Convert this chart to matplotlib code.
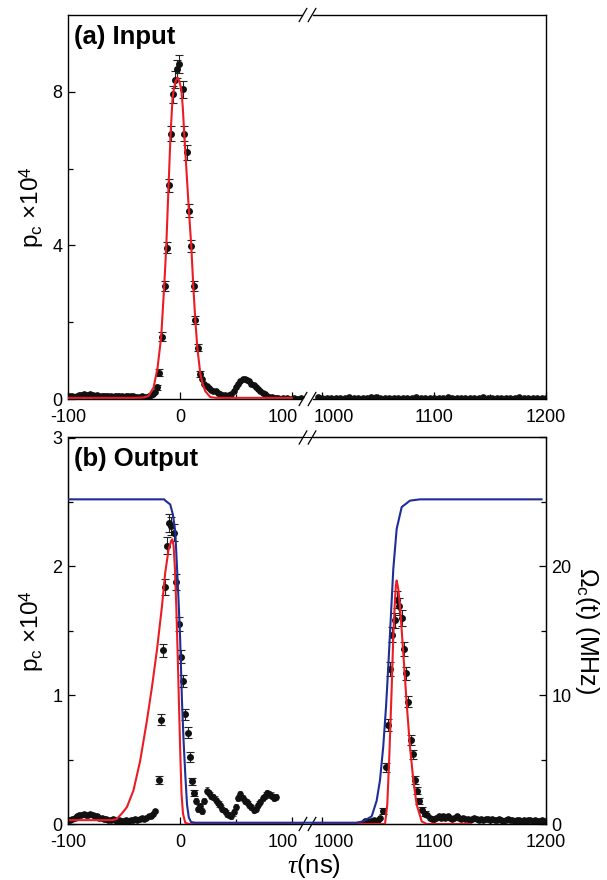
import numpy as np
import matplotlib
matplotlib.use('Agg')
import matplotlib.pyplot as plt
from matplotlib.transforms import ScaledTranslation

plt.rcParams['font.family'] = 'Liberation Sans'
plt.rcParams['mathtext.fontset'] = 'custom'
plt.rcParams['mathtext.rm'] = 'Liberation Sans'
plt.rcParams['mathtext.it'] = 'Liberation Serif:italic'
plt.rcParams['axes.unicode_minus'] = False

# -------------------------------------------------------------------------
# Data (tau in ns, p_c in units of 1e-4, Omega in MHz)
# -------------------------------------------------------------------------
# (a) input pulse: fit curve
a_fit_x = [-100, -40, -32.5, -28, -23.5, -20, -16.7, -14.0, -12.2, -10.1, -8.3,
           -6.5, -5.0, -3.5, -2.0, -0.5, 1.3, 2.6, 3.9, 6.0, 8.1, 10.2, 12.0,
           13.8, 15.6, 18.3, 20.5, 22.8, 27.2, 32, 100]
a_fit_y = [0.03, 0.03, 0.04, 0.08, 0.30, 0.80, 1.62, 2.94, 3.94, 5.56, 6.91,
           7.85, 8.12, 8.30, 8.37, 8.28, 8.06, 7.60, 6.91, 5.90, 4.90, 3.99, 2.94,
           2.06, 1.34, 0.65, 0.38, 0.20, 0.05, 0.03, 0.03]

# (a) measured points around the peak
a_pk_x = [-20.5, -18.5, -16.0, -13.7, -11.6, -10.1, -7.7, -6.2, -4.1, -2.6, -0.5,
          2.4, 3.9, 6.4, 8.4, 10.2, 12.3, 13.8, 15.9, 18.3]
a_pk_y = [0.30, 0.69, 1.62, 2.94, 3.94, 5.56, 6.91, 7.93, 8.31, 8.59, 8.73,
          8.06, 6.91, 6.42, 4.90, 3.99, 2.94, 2.06, 1.34, 0.65]
a_pk_e = [0.06, 0.08, 0.12, 0.14, 0.15, 0.18, 0.20, 0.22, 0.22, 0.23, 0.23,
          0.22, 0.20, 0.20, 0.17, 0.15, 0.14, 0.11, 0.09, 0.07]

# (a) background before the pulse, tau = -100 ... -22 (2 ns steps)
a_pre_x = np.arange(-100, -21, 2)
a_pre_y = [0.06, 0.07, 0.08, 0.06, 0.09, 0.10, 0.11, 0.12, 0.10, 0.11,
           0.12, 0.10, 0.09, 0.10, 0.08, 0.09, 0.07, 0.08, 0.09, 0.07,
           0.06, 0.08, 0.07, 0.09, 0.08, 0.06, 0.07, 0.09, 0.08, 0.07,
           0.06, 0.05, 0.06, 0.07, 0.05, 0.06, 0.08, 0.10, 0.13, 0.18]

# (a) tail after the pulse, tau = 20 ... 108 (2 ns steps)
a_post_x = np.arange(20, 109, 2)
a_post_y = [0.52, 0.38, 0.34, 0.28, 0.24, 0.21, 0.20, 0.16, 0.14, 0.10,
            0.10, 0.09, 0.11, 0.13, 0.21, 0.30, 0.40, 0.47, 0.52, 0.53,
            0.50, 0.46, 0.40, 0.36, 0.30, 0.25, 0.21, 0.16, 0.12, 0.09,
            0.06, 0.04, 0.03, 0.02, 0.02, 0.01, 0.02, 0.01, 0.02, 0.01,
            0.01, 0.02, 0.01, 0.01, 0.02]

# (a) late window, tau = 996 ... 1200 (4 ns steps)
a_late_x = np.arange(996, 1201, 4)
a_late_y = [0.04, 0.03, 0.02, 0.03, 0.03, 0.02, 0.03,
            0.04, 0.03, 0.03, 0.02, 0.03, 0.04, 0.04, 0.03, 0.02, 0.03,
            0.03, 0.02, 0.02, 0.03, 0.03, 0.04, 0.03, 0.03, 0.02, 0.03,
            0.02, 0.03, 0.04, 0.03, 0.03, 0.02, 0.03, 0.03, 0.02, 0.03,
            0.04, 0.03, 0.02, 0.03, 0.03, 0.02, 0.03, 0.03, 0.04, 0.03,
            0.02, 0.03, 0.03, 0.02, 0.03]

# (b) output: fit curve (stored + retrieved pulse)
b_fit_x = [-100, -60, -56.4, -52, -47.4, -41.5, -35.5, -29.5, -25.0, -20.5,
           -16.0, -13.1, -10.1, -7.7, -6.8, -5.6, -4.4, -3.2, -2.0, -0.8, 0.4,
           1.5, 2.8, 4.8, 8, 1056.1, 1058.1, 1059.9, 1062.0, 1063.5, 1065.0,
           1065.8, 1066.5, 1068.0, 1069.5, 1072.4, 1075.5, 1078.4, 1081.4,
           1084.4, 1088.9, 1093.3, 1132]
b_fit_y = [0.03, 0.03, 0.04, 0.08, 0.13, 0.26, 0.49, 0.80, 1.06, 1.35,
           1.69, 1.95, 2.13, 2.20, 2.21, 2.16, 1.98, 1.69, 1.33, 0.93, 0.54,
           0.23, 0.08, 0.01, 0.0, 0.0, 0.15, 0.52, 1.04, 1.46, 1.74,
           1.85, 1.89, 1.82, 1.69, 1.33, 0.93, 0.60, 0.34,
           0.15, 0.02, 0.0, 0.0]

# (b) control Rabi frequency Omega_c(t), MHz
om_x = [-100, -14, -13, -8.6, -6.2, -4.1, -2.6, -1.2, 0.2, 1.0, 1.9, 3.3, 4.8,
        6.4, 8.0, 10.0, 14.0, 1030, 1036.7, 1044.2, 1048.6, 1051.6, 1054.5,
        1057, 1059, 1061.2, 1063.5, 1066.5, 1071, 1078.4, 1087.4, 1196]
om_y = [25.2, 25.2, 25.1, 24.8, 24.0, 22.7, 20.0, 17.4, 14.5, 12.2, 9.5, 6.5,
        3.9, 1.5, 0.5, 0.15, 0.1, 0.1, 0.2, 0.6, 1.8, 3.4, 6.0,
        9.1, 12.2, 15.9, 19.8, 22.9, 24.6, 25.1, 25.2, 25.2]

# (b) measured points, first retrieval
b_pk_x = [-19.0, -17.0, -15.2, -13.4, -11.6, -9.5, -7.5, -5.6, -3.5, -1.2, 0.8,
          2.4, 5.0, 7.0, 9.0, 10.8, 12.6]
b_pk_y = [0.34, 0.81, 1.35, 1.84, 2.16, 2.34, 2.31, 2.26, 1.88, 1.55, 1.30,
          1.11, 0.85, 0.71, 0.52, 0.33, 0.24]
b_pk_e = [0.03, 0.04, 0.05, 0.06, 0.065, 0.07, 0.07, 0.065, 0.06, 0.055, 0.05,
          0.05, 0.045, 0.04, 0.035, 0.03, 0.025]

# (b) background before, tau = -100 ... -22
b_pre_x = np.arange(-100, -21, 2)
b_pre_y = [0.03, 0.03, 0.04, 0.05, 0.06, 0.07, 0.07, 0.08, 0.07, 0.07,
           0.08, 0.07, 0.06, 0.06, 0.05, 0.05, 0.04, 0.04, 0.03, 0.03,
           0.04, 0.03, 0.02, 0.03, 0.02, 0.02, 0.03, 0.02, 0.03, 0.03,
           0.04, 0.03, 0.04, 0.05, 0.04, 0.05, 0.06, 0.06, 0.08, 0.10]

# (b) oscillating leakage after first retrieval
b_osc_x = [14.5, 16.5, 18.3, 20.0, 22.0, 24.0, 26.0, 28.0, 30.0, 32.0,
           34.0, 36.0, 38.0, 40.0, 42.0, 44.0, 46.0, 48.0, 50.0, 52.0,
           54.0, 56.0, 58.0, 60.0, 62.0, 64.0, 66.0, 68.0, 70.0, 72.0,
           74.0, 76.0, 78.0, 80.0, 82.0, 84.0, 86.0]
b_osc_y = [0.18, 0.12, 0.14, 0.10, 0.18, 0.26, 0.24, 0.22, 0.21, 0.19,
           0.16, 0.15, 0.12, 0.10, 0.08, 0.07, 0.06, 0.09, 0.13, 0.20,
           0.23, 0.20, 0.18, 0.17, 0.15, 0.13, 0.11, 0.12, 0.15, 0.17,
           0.20, 0.22, 0.24, 0.23, 0.22, 0.20, 0.21]

# (b) measured points, second retrieval
b_pk2_x = [1054.5, 1056.7, 1058.5, 1060.5, 1062.6, 1064.7, 1066.7, 1068.6, 1071.0,
           1072.8, 1074.8, 1076.9, 1079.3, 1081.4, 1083.2, 1084.4, 1086.5,
           1089.4, 1091.8]
b_pk2_y = [0.10, 0.44, 0.77, 1.20, 1.47, 1.58, 1.74, 1.69, 1.60,
           1.36, 1.17, 0.95, 0.65, 0.54, 0.34, 0.26, 0.18, 0.11, 0.08]
b_pk2_e = [0.025, 0.035, 0.045, 0.055, 0.06, 0.06, 0.065, 0.065, 0.06,
           0.055, 0.05, 0.045, 0.04, 0.035, 0.03, 0.03, 0.025, 0.02, 0.02]

# (b) background around second retrieval
b_pre2_x = np.arange(1036, 1053, 2)
b_pre2_y = [0.01, 0.02, 0.02, 0.01, 0.02, 0.03, 0.02, 0.03, 0.05]
b_post2_x = np.arange(1094, 1199, 2)
b_post2_y = [0.07, 0.05, 0.04, 0.04, 0.05, 0.06, 0.05, 0.06, 0.05, 0.06,
             0.05, 0.04, 0.05, 0.06, 0.05, 0.04, 0.05, 0.04, 0.04, 0.03,
             0.04, 0.05, 0.04, 0.03, 0.04, 0.03, 0.04, 0.04, 0.03, 0.04,
             0.03, 0.03, 0.04, 0.03, 0.02, 0.03, 0.04, 0.03, 0.03, 0.02,
             0.03, 0.03, 0.02, 0.03, 0.02, 0.03, 0.03, 0.02, 0.03, 0.02,
             0.02, 0.03, 0.02]

xticks = [-100, 0, 100, 1000, 1100, 1200]
xtick_labels = ['-100', '0', '100', '1000', '1100', '1200']

# -------------------------------------------------------------------------
# Broken time axis: -100..114.5 and 987.2..1200 shown side by side
# -------------------------------------------------------------------------
GAP = 872.7
BRK = 114.5

def fwd(x):
    x = np.asarray(x, dtype=float)
    return np.where(x <= BRK, x, np.where(x >= BRK + GAP, x - GAP, BRK))

def inv(t):
    t = np.asarray(t, dtype=float)
    return np.where(t <= BRK, t, t + GAP)

RED = '#ec1c24'
BLUE = '#1f2d96'
PT = '#111111'

def points(ax, x, y, e):
    ax.errorbar(x, y, yerr=e, fmt='o', ms=4.0, color=PT, ecolor='#222222',
                elinewidth=0.8, capsize=2.6, capthick=0.8, zorder=2)

def background(ax, x, y, e):
    ax.errorbar(x, y, yerr=e, fmt='o', ms=3.8, color=PT, ecolor='#333333',
                elinewidth=0.6, capsize=1.5, capthick=0.6, zorder=2)

def style(ax, fig):
    ax.set_xscale('function', functions=(fwd, inv))
    ax.set_xlim(-100, 1200)
    ax.set_xticks(xticks, xtick_labels)
    ax.set_xticks([-50, 50, 1050, 1150], minor=True)
    ax.tick_params(which='both', direction='in', labelsize=13, pad=4,
                   top=False, right=False, width=0.9)
    ax.tick_params(axis='x', pad=7)
    ax.tick_params(which='major', length=5)
    ax.tick_params(which='minor', length=3.5)
    for sp in ax.spines.values():
        sp.set_linewidth(1.0)
    for tk in ax.xaxis.get_major_ticks():
        txt = tk.label1.get_text()
        if txt == '100':
            tk.label1.set_transform(tk.label1.get_transform() +
                                    ScaledTranslation(-0.09, 0, fig.dpi_scale_trans))
        elif txt == '1000':
            tk.label1.set_transform(tk.label1.get_transform() +
                                    ScaledTranslation(0.12, 0, fig.dpi_scale_trans))

def breaks(ax, h):
    for yy in (0, 1):
        ax.plot([0.4935, 0.5085], [yy, yy], color='white', lw=2.0,
                transform=ax.transAxes, clip_on=False, zorder=5)
        for xc in (0.4916, 0.5105):
            ax.plot([xc - 0.008, xc + 0.008], [yy - h, yy + h], color='black',
                    lw=0.9, transform=ax.transAxes, clip_on=False, zorder=6)

fig = plt.figure(figsize=(6.07, 8.80), dpi=100)
axa = fig.add_axes([68 / 607, 1 - 399 / 880, 478 / 607, 384 / 880])
axb = fig.add_axes([68 / 607, 1 - 824 / 880, 478 / 607, 386.5 / 880])

# ---- Panel (a) ----
style(axa, fig)
background(axa, a_pre_x, a_pre_y, 0.04)
background(axa, a_post_x, a_post_y, 0.04)
background(axa, a_late_x, a_late_y, 0.03)
points(axa, a_pk_x, a_pk_y, a_pk_e)
axa.plot(a_fit_x, a_fit_y, color=RED, lw=1.5, zorder=3)
axa.set_ylim(0, 10)
axa.set_yticks([0, 4, 8])
axa.set_yticks([2, 6], minor=True)
axa.set_ylabel('p$_\\mathrm{c}$ ×10$^4$', fontsize=17.5)
axa.yaxis.set_label_coords(-0.045, 0.5)
axa.text(0.013, 0.975, '(a) Input', transform=axa.transAxes, fontsize=18.5,
         fontweight='bold', ha='left', va='top')
breaks(axa, 0.017)

# ---- Panel (b) ----
style(axb, fig)
background(axb, b_pre_x, b_pre_y, 0.015)
background(axb, b_osc_x, b_osc_y, 0.025)
background(axb, b_pre2_x, b_pre2_y, 0.015)
background(axb, b_post2_x, b_post2_y, 0.015)
points(axb, b_pk_x, b_pk_y, b_pk_e)
points(axb, b_pk2_x, b_pk2_y, b_pk2_e)
axb.plot(b_fit_x, b_fit_y, color=RED, lw=1.5, zorder=3)
axb.set_ylim(0, 3)
axb.set_yticks([0, 1, 2, 3])
axb.set_yticks([0.5, 1.5, 2.5], minor=True)
axb.set_ylabel('p$_\\mathrm{c}$ ×10$^4$', fontsize=17.5)
axb.yaxis.set_label_coords(-0.045, 0.5)
axb.set_xlabel('$\\tau$(ns)', fontsize=18.5)
axb.xaxis.set_label_coords(0.515, -0.072)
axb.text(0.013, 0.975, '(b) Output', transform=axb.transAxes, fontsize=18.5,
         fontweight='bold', ha='left', va='top')

axr = axb.twinx()
axr.plot(om_x, om_y, color=BLUE, lw=1.5, zorder=4)
axr.set_ylim(0, 30)
axr.set_yticks([0, 10, 20, 30], ['0', '10', '20', ''])
axr.set_yticks([5, 15, 25], minor=True)
axr.tick_params(which='both', direction='in', labelsize=13, pad=4, width=0.9)
axr.tick_params(which='major', length=5)
axr.tick_params(which='minor', length=3.5)
axr.set_ylabel('Ω$_\\mathrm{c}$(t) (MHz)', fontsize=18, rotation=270, va='bottom')
axr.yaxis.set_label_coords(1.056, 0.5)
breaks(axb, 0.017)

fig.savefig('out.png', dpi=100)
